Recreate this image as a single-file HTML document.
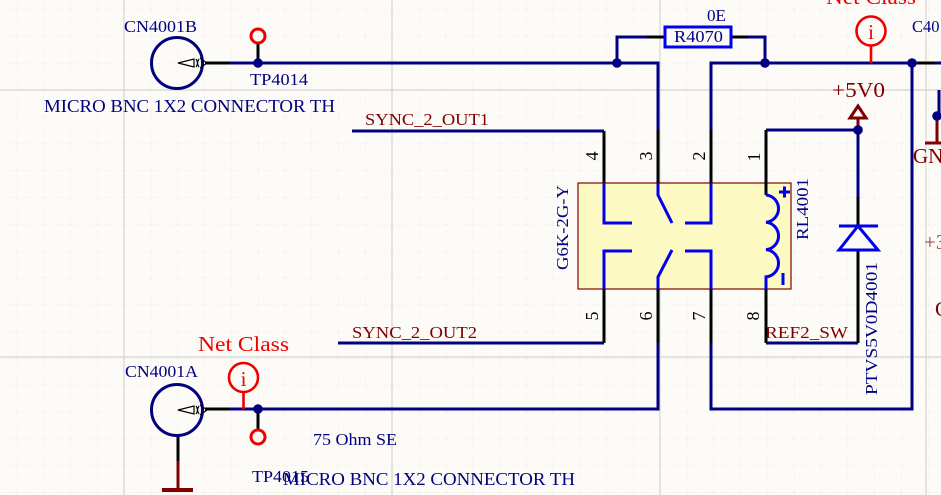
<!DOCTYPE html>
<html><head><meta charset="utf-8"><style>
html,body{margin:0;padding:0;background:#fdfbf7;}
svg{display:block;}
text{font-family:"Liberation Serif",serif;}
</style></head><body>
<svg width="941" height="495" viewBox="0 0 941 495" xmlns="http://www.w3.org/2000/svg">
<defs>
<pattern id="minor" x="124" y="90" width="26.8" height="26.8" patternUnits="userSpaceOnUse">
<line x1="0" y1="0" x2="26.8" y2="0" stroke="#eeeae4" stroke-width="1" stroke-dasharray="3,3"/>
<line x1="0" y1="0" x2="0" y2="26.8" stroke="#eeeae4" stroke-width="1" stroke-dasharray="3,3"/>
</pattern>
</defs>
<rect width="941" height="495" fill="#fdfbf7"/>
<rect width="941" height="495" fill="url(#minor)"/>
<g stroke="#d6d4d0" stroke-width="1.2">
<line x1="124" y1="0" x2="124" y2="495"/><line x1="392" y1="0" x2="392" y2="495"/>
<line x1="660" y1="0" x2="660" y2="495"/><line x1="926" y1="0" x2="926" y2="495"/>
<line x1="0" y1="90" x2="941" y2="90"/><line x1="0" y1="357" x2="941" y2="357"/>
</g>

<!-- relay body -->
<rect x="578" y="183" width="213" height="106" fill="#fdf9c2" stroke="#800000" stroke-width="1.2"/>

<!-- navy wires -->
<g fill="none" stroke="#000080" stroke-width="3" stroke-linejoin="miter">
<path d="M229,63 H658 V130"/>
<path d="M617,63 V37 H647"/>
<path d="M748,37 H765 V63"/>
<path d="M711,130 V63 H918"/>
<path d="M935,63 H941"/>
<path d="M912,63 V409 H711 V342"/>
<path d="M352,131 H604"/>
<path d="M338,343 H604"/>
<path d="M229,409 H658 V342"/>
<path d="M766,130 H858 V197"/>
<path d="M766,343 H858"/>
<path d="M939,90 V116"/>
</g>
<!-- black pin leads -->
<g fill="none" stroke="#000" stroke-width="3">
<path d="M205,63 H229"/>
<path d="M205,409 H229"/>
<path d="M647,37 H665"/><path d="M731,37 H748"/>
<path d="M918,63 H935"/>
<path d="M604,131 V183"/><path d="M658,130 V183"/><path d="M711,130 V183"/><path d="M766,130 V195"/>
<path d="M604,289 V343"/><path d="M658,289 V343"/><path d="M711,289 V343"/><path d="M766,289 V343"/>
<path d="M858,197 V226"/><path d="M858,250 V343"/>
<path d="M258,44 V63"/><path d="M258,409 V429"/>
<path d="M178,436 V461"/>
</g>

<!-- resistor -->
<rect x="665" y="27" width="66" height="20" fill="none" stroke="#0000ee" stroke-width="3"/>

<!-- relay internals -->
<g fill="none" stroke="#0000ee" stroke-width="3">
<path d="M604,183 V223 H632"/>
<path d="M658,183 V195 L672,223"/>
<path d="M711,183 V223 H685"/>
<path d="M604,289 V251 H632"/>
<path d="M658,289 V277 L672,250"/>
<path d="M711,289 V251 H685"/>
<path d="M766,195 a13.7,13.7 0 0 1 0,27.3 a13.7,13.7 0 0 1 0,27.3 a13.7,13.7 0 0 1 0,27.3 V289"/>
<path d="M779,192 H790 M784.5,186.5 V197.5"/>
<path d="M783,273 V285"/>
<!-- diode -->
<path d="M839,226 H878"/>
<path d="M858,226 L878,250 H839 Z"/>
</g>

<!-- +5V0 symbol -->
<g fill="none" stroke="#800000" stroke-width="3">
<polygon points="858,106 850,118 866,118"/>
<path d="M858,118 V126"/>
<path d="M937,116 V143"/><path d="M925,143 H945"/>
<path d="M178,461 V490"/>
</g>
<path d="M162,490 H193" stroke="#800000" stroke-width="4"/>

<!-- connectors -->
<g fill="none" stroke="#000080" stroke-width="3">
<circle cx="177" cy="63" r="25.5"/>
<circle cx="177" cy="410" r="25.5"/>
</g>
<g fill="none" stroke="#000" stroke-width="1.2">
<path d="M178,63 L194,59 V67 Z"/>
<path d="M196,59 q3,4 0,8"/><path d="M199,59 q-3,4 0,8"/>
<path d="M200,58 L207,63 L200,68"/>
<path d="M178,410 L194,406 V414 Z"/>
<path d="M196,406 q3,4 0,8"/><path d="M199,406 q-3,4 0,8"/>
<path d="M200,405 L207,410 L200,415"/>
</g>

<!-- junction dots -->
<g fill="#000080">
<circle cx="258" cy="63" r="4.8"/><circle cx="617" cy="63" r="4.8"/>
<circle cx="765" cy="63" r="4.8"/><circle cx="912" cy="63" r="4.8"/>
<circle cx="858" cy="130" r="4.8"/><circle cx="258" cy="409" r="4.8"/>
<circle cx="937" cy="116" r="4.8"/>
</g>

<!-- test points / net class -->
<g fill="none" stroke="#ee0000" stroke-width="3">
<circle cx="258" cy="36" r="7"/>
<circle cx="258" cy="437" r="7"/>
</g>
<g fill="none" stroke="#ee0000" stroke-width="2.6">
<circle cx="871" cy="31" r="14.5"/><path d="M871,45.5 V63"/>
<circle cx="243.5" cy="377.5" r="14.5"/><path d="M243.5,392 V409"/>
</g>
<g fill="#ee0000" font-size="21">
<text x="871" y="39" text-anchor="middle">i</text>
<text x="243.5" y="386" text-anchor="middle">i</text>
<text x="826" y="4" textLength="90" lengthAdjust="spacingAndGlyphs">Net Class</text>
<text x="198" y="351" textLength="91" lengthAdjust="spacingAndGlyphs">Net Class</text>
</g>

<!-- navy labels -->
<g fill="#000080" font-size="16.5">
<text x="124" y="32" textLength="73" lengthAdjust="spacingAndGlyphs">CN4001B</text>
<text x="250" y="85" textLength="58" lengthAdjust="spacingAndGlyphs">TP4014</text>
<text x="44" y="112" font-size="17.5" textLength="291" lengthAdjust="spacingAndGlyphs">MICRO BNC 1X2 CONNECTOR TH</text>
<text x="707" y="21" textLength="19" lengthAdjust="spacingAndGlyphs">0E</text>
<text x="674" y="42" textLength="49" lengthAdjust="spacingAndGlyphs">R4070</text>
<text x="912" y="32">C40</text>
<text x="125" y="377" textLength="73" lengthAdjust="spacingAndGlyphs">CN4001A</text>
<text x="313" y="445" textLength="84" lengthAdjust="spacingAndGlyphs">75 Ohm SE</text>
<text x="252" y="482" textLength="57" lengthAdjust="spacingAndGlyphs">TP4015</text>
<text x="283" y="485" font-size="17.5" textLength="292" lengthAdjust="spacingAndGlyphs">MICRO BNC 1X2 CONNECTOR TH</text>
<text transform="translate(568,270) rotate(-90)" font-size="17" textLength="85" lengthAdjust="spacingAndGlyphs">G6K-2G-Y</text>
<text transform="translate(808,240) rotate(-90)" font-size="17" textLength="62" lengthAdjust="spacingAndGlyphs">RL4001</text>
<text transform="translate(877,395) rotate(-90)" font-size="17" textLength="133" lengthAdjust="spacingAndGlyphs">PTVS5V0D4001</text>
</g>

<!-- dark red labels -->
<g fill="#800000" font-size="17">
<text x="365" y="125" textLength="124" lengthAdjust="spacingAndGlyphs">SYNC_2_OUT1</text>
<text x="352" y="338" textLength="125" lengthAdjust="spacingAndGlyphs">SYNC_2_OUT2</text>
<text x="765" y="338" textLength="83" lengthAdjust="spacingAndGlyphs">REF2_SW</text>
<text x="832" y="97" font-size="21" textLength="53" lengthAdjust="spacingAndGlyphs">+5V0</text>
<text x="913" y="163" font-size="21">GND</text>
<text x="924" y="249" font-size="21" fill-opacity="0.75">+3V3</text>
<text x="935" y="316" font-size="21">C</text>
</g>

<!-- pin numbers -->
<g fill="#000" font-size="18" text-anchor="middle">
<text transform="translate(598,156) rotate(-90)">4</text>
<text transform="translate(652,156) rotate(-90)">3</text>
<text transform="translate(705,156) rotate(-90)">2</text>
<text transform="translate(760,157) rotate(-90)">1</text>
<text transform="translate(598,316) rotate(-90)">5</text>
<text transform="translate(652,316) rotate(-90)">6</text>
<text transform="translate(705,316) rotate(-90)">7</text>
<text transform="translate(759,316) rotate(-90)">8</text>
</g>
</svg>
</body></html>
